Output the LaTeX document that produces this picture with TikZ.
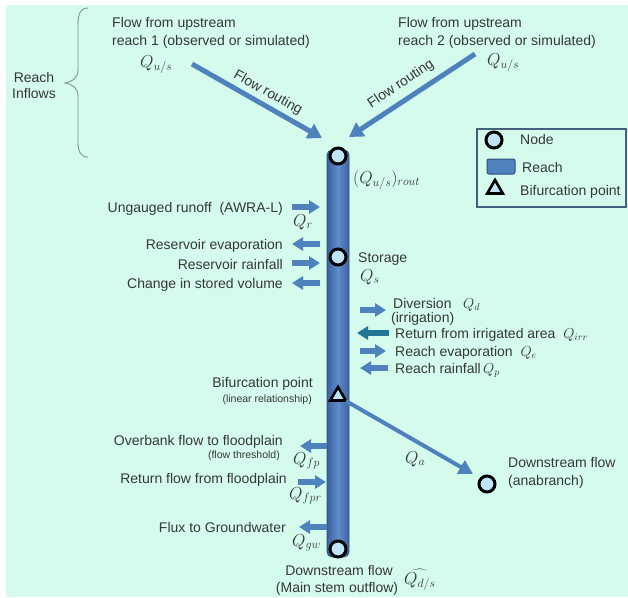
\documentclass[tikz,border=0pt]{standalone}
\usepackage{fontspec}
\setmainfont{Liberation Sans}
\usetikzlibrary{arrows.meta,shapes.geometric}
\definecolor{bgc}{RGB}{212,251,236}
\definecolor{textc}{RGB}{55,55,55}
\definecolor{arrowblue}{RGB}{79,129,189}
\definecolor{tealc}{RGB}{33,118,148}
\definecolor{nodefill}{RGB}{190,228,245}
\definecolor{barDark}{RGB}{58,98,158}
\definecolor{barLight}{RGB}{96,140,205}
\definecolor{barEdge}{RGB}{45,80,130}
\definecolor{legEdge}{RGB}{70,95,125}
\definecolor{bracec}{RGB}{130,150,145}
\newcommand{\mq}{\fontsize{17}{20}\selectfont}
\begin{document}
\begin{tikzpicture}[x=1pt,y=-1pt,
  txt/.style={font=\fontsize{14}{17}\selectfont, text=textc, inner sep=0pt},
  smalltxt/.style={font=\fontsize{10.5}{12}\selectfont, text=textc, inner sep=0pt},
  mth/.style={font=\fontsize{17}{20}\selectfont, text=textc, inner sep=0pt},
  nodecirc/.style={circle, draw=black, line width=3pt, fill=nodefill, minimum size=16pt, inner sep=0pt},
  bif/.style={regular polygon, regular polygon sides=3, draw=black, line width=2.6pt, fill=nodefill, minimum size=18pt, inner sep=0pt},
  bigarrow/.style={draw=arrowblue, line width=5pt, -{Triangle[width=16pt,length=14pt]}},
  sidearrow/.style={draw=arrowblue, line width=6pt, -{Triangle[width=13pt,length=11pt]}},
]
\useasboundingbox (0,0) rectangle (628,597);
\fill[white] (0,0) rectangle (628,597);
\fill[bgc] (6,5) rectangle (628,597);

% brace and Reach Inflows
\draw[bracec, line width=0.9pt] (88,8) .. controls (81,8) and (78,13) .. (78,24) -- (78,70)
  .. controls (78,78) and (72,82) .. (65,83) .. controls (72,84) and (78,88) .. (78,96)
  -- (78,142) .. controls (78,152) and (81,157) .. (88,157);
\node[txt, anchor=base] (reach) at (34,82) {Reach};
\node[txt, anchor=base] (inflows) at (34,98) {Inflows};

% upstream texts
\node[txt, anchor=base west] (up1a) at (112,27) {Flow from upstream};
\node[txt, anchor=base west] (up1b) at (112,45) {reach 1 (observed or simulated)};
\node[mth, anchor=base west] (qus1) at (140,67) {$Q_{u/s}$};
\node[txt, anchor=base west] (up2a) at (398,27) {Flow from upstream};
\node[txt, anchor=base west] (up2b) at (398,45) {reach 2 (observed or simulated)};
\node[mth, anchor=base west] (qus2) at (487,65) {$Q_{u/s}$};

% reach bar
\shade[left color=barDark, right color=barDark, middle color=barLight, rounded corners=5pt] (327,150) rectangle (349,557);
\draw[barEdge, line width=0.8pt, rounded corners=5pt] (327,150) rectangle (349,557);

% nodes
\node[nodecirc] (top) at (338,156) {};
\node[nodecirc] (stor) at (338,257) {};
\node[bif] (bifur) at (338,396) {};
\node[nodecirc] (bot) at (338,549) {};
\node[nodecirc] (ana) at (487,484) {};

% flow routing arrows
\coordinate (t1) at (192,64);
\coordinate (h1) at (322,138);
\coordinate (t2) at (475,54);
\coordinate (h2) at (349,137);
\draw[bigarrow] (t1) -- (h1);
\draw[bigarrow] (t2) -- (h2);
\node[txt, rotate=-29.3] (fr1) at (268,93) {Flow routing};
\node[txt, rotate=33.9] (fr2) at (401,84) {Flow routing};

% node labels
\node[mth, anchor=base west] (qrout) at (353,183) {$(Q_{u/s})_{rout}$};
\node[txt, anchor=base west] (storage) at (358,262) {Storage};
\node[mth, anchor=base west] (qs) at (360,281) {$Q_{s}$};

% left side inflows/outflows
\node[txt, anchor=base east] (ung) at (283,212) {Ungauged runoff \ (AWRA-L)};
\node[mth, anchor=base west] (qr) at (293,226) {$Q_{r}$};
\node[txt, anchor=base east] (resev) at (283,249) {Reservoir evaporation};
\node[txt, anchor=base east] (resrf) at (283,269) {Reservoir rainfall};
\node[txt, anchor=base east] (chg) at (283,288) {Change in stored volume};
\coordinate (a1s) at (292,207); \coordinate (a1e) at (320,207);
\coordinate (a2s) at (320,244); \coordinate (a2e) at (292,244);
\coordinate (a3s) at (292,263); \coordinate (a3e) at (320,263);
\coordinate (a4s) at (320,283); \coordinate (a4e) at (292,283);
\draw[sidearrow] (a1s) -- (a1e);
\draw[sidearrow] (a2s) -- (a2e);
\draw[sidearrow] (a3s) -- (a3e);
\draw[sidearrow] (a4s) -- (a4e);

% right side
\node[txt, anchor=base west] (div) at (393,308) {Diversion \ \ $\mq Q_{d}$};
\node[txt, anchor=base west] (irr) at (391,322) {(irrigation)};
\node[txt, anchor=base west] (ret) at (395,338) {Return from irrigated area \ $\mq Q_{irr}$};
\node[txt, anchor=base west] (rev) at (395,356) {Reach evaporation \ $\mq Q_{e}$};
\node[txt, anchor=base west] (rrf) at (395,373) {Reach rainfall\,$\mq Q_{p}$};
\coordinate (b1s) at (360,310); \coordinate (b1e) at (386,310);
\coordinate (b2s) at (389,333); \coordinate (b2e) at (357,333);
\coordinate (b3s) at (360,351); \coordinate (b3e) at (386,351);
\coordinate (b4s) at (388,368); \coordinate (b4e) at (360,368);
\draw[sidearrow] (b1s) -- (b1e);
\draw[sidearrow, draw=tealc] (b2s) -- (b2e);
\draw[sidearrow] (b3s) -- (b3e);
\draw[sidearrow] (b4s) -- (b4e);

% bifurcation
\node[txt, anchor=base east] (bifl) at (313,387) {Bifurcation point};
\node[smalltxt, anchor=base east] (linr) at (312,402) {(linear relationship)};
\coordinate (qa1) at (346,401);
\coordinate (qa2) at (473,474);
\draw[draw=arrowblue, line width=4pt, -{Triangle[width=15pt,length=14pt]}] (qa1) -- (qa2);
\node[mth, anchor=base west] (qa) at (405,463) {$Q_{a}$};
\node[txt, anchor=base west] (dsa1) at (508,467) {Downstream flow};
\node[txt, anchor=base west] (dsa2) at (508,485) {(anabranch)};

% lower left
\node[txt, anchor=base east] (ovb) at (283,445) {Overbank flow to floodplain};
\node[smalltxt, anchor=base east] (thr) at (280,458) {(flow threshold)};
\node[mth, anchor=base west] (qfp) at (293,464) {$Q_{fp}$};
\node[txt, anchor=base east] (rff) at (287,483) {Return flow from floodplain};
\node[mth, anchor=base west] (qfpr) at (289,499) {$Q_{fpr}$};
\node[txt, anchor=base east] (gw) at (286,532) {Flux to Groundwater};
\node[mth, anchor=base west] (qgw) at (292,546) {$Q_{gw}$};
\coordinate (c1s) at (327,446); \coordinate (c1e) at (300,446);
\coordinate (c2s) at (298,482); \coordinate (c2e) at (326,482);
\coordinate (c3s) at (327,527); \coordinate (c3e) at (299,527);
\draw[sidearrow] (c1s) -- (c1e);
\draw[sidearrow] (c2s) -- (c2e);
\draw[sidearrow] (c3s) -- (c3e);

% downstream main
\node[txt, anchor=base] (dsm1) at (339,575) {Downstream flow};
\node[txt, anchor=base] (dsm2) at (337,592) {(Main stem outflow)};
\node[mth, anchor=base west] (qds) at (404,584) {$\widehat{Q_{d/s}}$};

% legend
\draw[legEdge, line width=1.5pt] (477,129) rectangle (626,207);
\node[nodecirc] (legnode) at (494,140) {};
\node[txt, anchor=base west] (legnodet) at (520,144) {Node};
\draw[barEdge, fill=arrowblue, line width=1pt, rounded corners=2pt] (487,159) rectangle (515,174);
\node[txt, anchor=base west] (legreach) at (522,172) {Reach};
\node[bif] (legbif) at (495,189) {};
\node[txt, anchor=base west] (legbift) at (520,195) {Bifurcation point};
\end{tikzpicture}
\end{document}
